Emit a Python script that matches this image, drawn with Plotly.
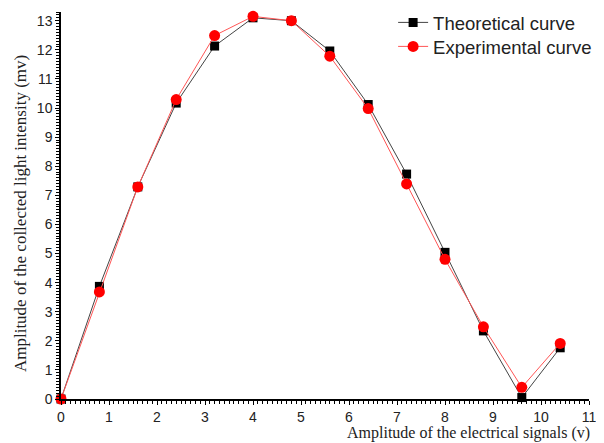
import plotly.graph_objects as go

x_vals = [0, 0.8, 1.6, 2.4, 3.2, 4.0, 4.8, 5.6, 6.4, 7.2, 8.0, 8.8, 9.6, 10.4]
theoretical = [0.0, 3.87, 7.29, 10.17, 12.13, 13.1, 13.0, 11.96, 10.12, 7.73, 5.04, 2.34, 0.05, 1.76]
experimental = [0.0, 3.68, 7.29, 10.29, 12.49, 13.15, 13.0, 11.78, 9.98, 7.39, 4.8, 2.48, 0.4, 1.91]
x_ticks = list(range(0, 12))
y_ticks = list(range(0, 14))

fig = go.Figure()
fig.add_trace(go.Scatter(
    x=x_vals, y=theoretical, mode="lines+markers", name="Theoretical curve",
    line=dict(color="#444444", width=1),
    marker=dict(symbol="square", size=9, color="black"),
    cliponaxis=False, legend="legend",
))
fig.add_trace(go.Scatter(
    x=x_vals, y=experimental, mode="lines+markers", name="Experimental curve",
    line=dict(color="#ff5555", width=1),
    marker=dict(symbol="circle", size=11, color="#ff0000"),
    cliponaxis=False, legend="legend2",
))

axis_common = dict(
    showgrid=False, zeroline=False, showline=True, linecolor="black", linewidth=1.5,
    ticks="outside", ticklen=4, tickwidth=1.2, tickcolor="black", automargin=False,
    tickfont=dict(family="Liberation Sans, Arial", size=14, color="#222222"),
)
fig.update_xaxes(range=[0, 11], tickvals=x_ticks,
                 minor=dict(dtick=0.1, ticks="outside", ticklen=3, tickcolor="black", tickwidth=1),
                 **axis_common)
fig.update_yaxes(range=[0, 13.3], tickvals=y_ticks,
                 minor=dict(dtick=0.1, ticks="outside", ticklen=3, tickcolor="black", tickwidth=1),
                 **axis_common)

fig.add_annotation(text="Amplitude of the electrical signals (v)", xref="paper", yref="paper",
                   x=1.003, y=-0.1135, xanchor="right", yanchor="bottom", showarrow=False,
                   borderpad=0,
                   font=dict(family="Liberation Serif, Times New Roman", size=16, color="#222222"))
fig.add_annotation(text="Amplitude of the collected light intensity (mv)", xref="paper", yref="paper",
                   x=-0.078, y=0.48, xanchor="center", yanchor="middle", textangle=-90, showarrow=False,
                   font=dict(family="Liberation Serif, Times New Roman", size=17, color="#222222"))

legend_style = dict(xanchor="left", yanchor="top", bgcolor="rgba(0,0,0,0)",
                    font=dict(family="Liberation Sans, Arial", size=18.5, color="#222222"),
                    itemwidth=30)

# page body has an 8px default margin, so the figure is sized/offset to compensate
fig.update_layout(
    width=596, height=435,
    margin=dict(l=53, r=15, t=4, b=44, autoexpand=False),
    paper_bgcolor="white", plot_bgcolor="white",
    showlegend=True,
    legend=dict(x=0.629, y=1.021, **legend_style),
    legend2=dict(x=0.629, y=0.959, **legend_style),
)

fig.write_html("out.html")
